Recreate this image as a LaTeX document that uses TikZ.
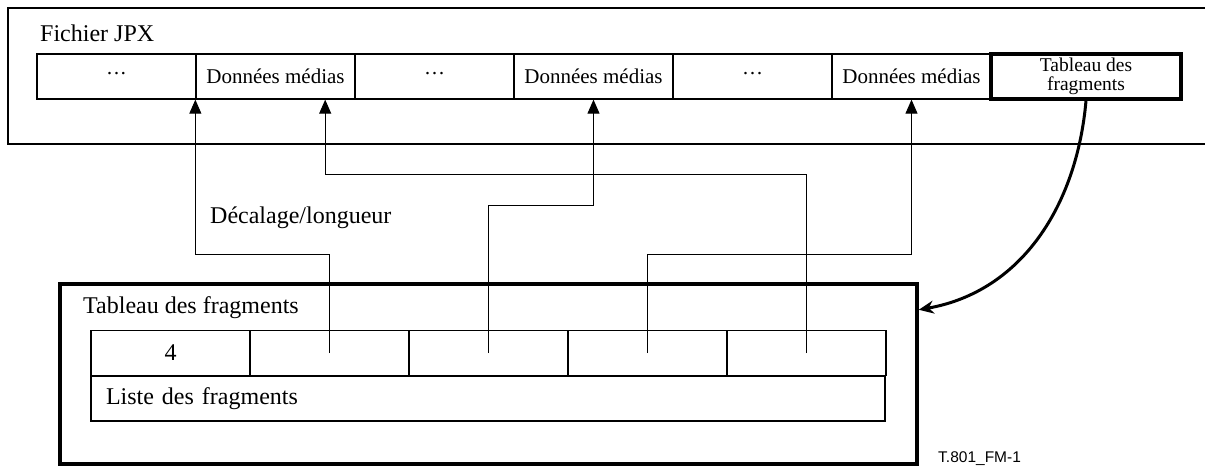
\documentclass[tikz,border=0pt]{standalone}
\usepackage{fontspec}
\setmainfont{Liberation Serif}
\setsansfont{Liberation Sans}
\usetikzlibrary{arrows.meta,calc}
\tikzset{>={Triangle[length=14pt,width=12pt]},
  cell/.style={draw,line width=1.3pt,minimum width=159pt,minimum height=45pt,inner sep=0pt,font=\fontsize{21}{24}\selectfont},
  bigbox/.style={draw,line width=3.5pt,inner sep=0pt},
  lbl/.style={inner sep=0pt,anchor=base west,font=\fontsize{24}{28}\selectfont},
  link/.style={line width=1pt,->},
  fetch/.style={line width=3pt,-{Stealth[length=15pt,width=13pt]}}}

\begin{document}
\begin{tikzpicture}[x=1pt,y=-1pt]
\useasboundingbox (0,0) rectangle (1205,468);
% fichier JPX
\draw[line width=1.3pt] (1205,8) -- (8,8) -- (8,144) -- (1205,144);
\node[lbl] (jpx) at (40,42) {Fichier JPX};
\foreach \txt [count=\i] in {···,Données médias,···,Données médias,···,Données médias}
  \node[cell] (m\i) at ({37+159*(\i-.5)},76.5) {\txt};
\node[bigbox,minimum width=190pt,minimum height=45pt,align=center,font=\fontsize{19.5}{18.5}\selectfont] (tab) at (1086,76.5) {Tableau des\\fragments};
% tableau des fragments
\node[bigbox,minimum width=857pt,minimum height=180pt] (frag) at (488.5,374) {};
\node[lbl] (fragtitle) at (83,313) {Tableau des fragments};
\node[cell,font=\fontsize{24}{28}\selectfont] (f0) at (170.5,353) {4};
\foreach \i in {1,...,4}
  \node[cell] (f\i) at ({170.5+159*\i},353) {};
\node[cell,minimum width=794pt,text width=764pt,inner xsep=15pt,align=left,font=\fontsize{24}{28}\selectfont] (list) at (488,398.5) {Liste des fragments};
% décalage/longueur
\coordinate (lvA) at (0,175);\coordinate (lvB) at (0,205);\coordinate (lvC) at (0,254);
\node[lbl] (declab) at (210,223) {Décalage/longueur};
\draw[link] (f1.center) -- (f1.center |- lvC) -| (m2.south west);
\draw[link] (f4.center) -- (f4.center |- lvA) -| ($(m2.south west)!.81!(m2.south east)$);
\draw[link] (f2.center) -- (f2.center |- lvB) -| (m4.south);
\draw[link] (f3.center) -- (f3.center |- lvC) -| (m6.south);
\draw[fetch] (tab.south) to[out=-95,in=10] ($(frag.north east)!.15!(frag.south east)$);
\node[lbl,font=\sffamily\fontsize{15.5}{18}\selectfont] (ref) at (938,462) {T.801\_FM-1};
\end{tikzpicture}
\end{document}
